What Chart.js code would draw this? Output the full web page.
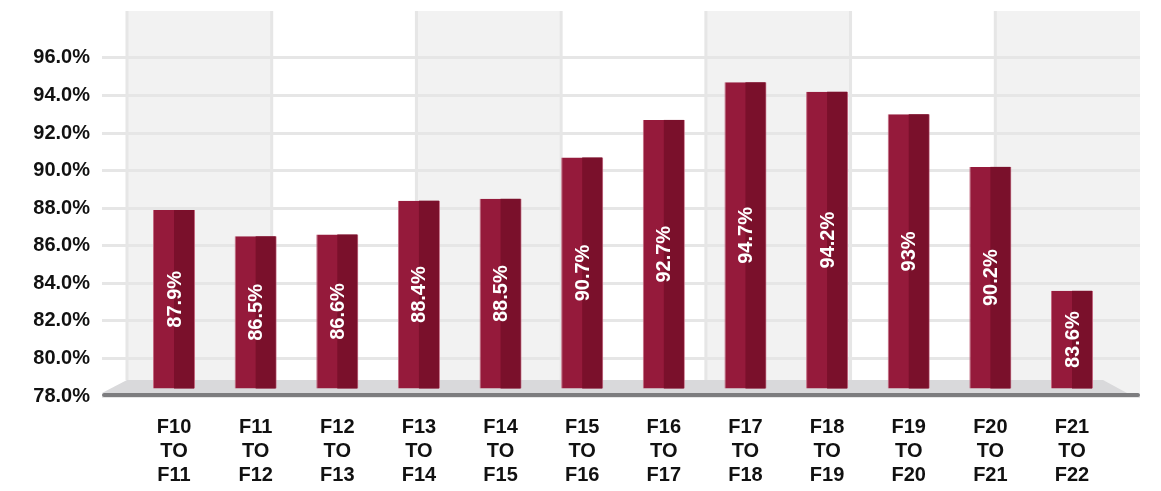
<!DOCTYPE html>
<html>
<head>
<meta charset="utf-8">
<script src="https://cdn.jsdelivr.net/npm/chart.js@4.4.0/dist/chart.umd.min.js"></script>
<style>
  html, body { margin: 0; padding: 0; background: #ffffff; }
  #wrap { width: 1161px; height: 491px; position: relative; }
</style>
</head>
<body>
<div id="wrap"><canvas id="retentionChart"></canvas></div>
<script>
// ------------------- Data -------------------
const periods = [
  "F10 TO F11", "F11 TO F12", "F12 TO F13", "F13 TO F14",
  "F14 TO F15", "F15 TO F16", "F16 TO F17", "F17 TO F18",
  "F18 TO F19", "F19 TO F20", "F20 TO F21", "F21 TO F22"
];
const rates = [87.9, 86.5, 86.6, 88.4, 88.5, 90.7, 92.7, 94.7, 94.2, 93, 90.2, 83.6];
const yTickValues = [78, 80, 82, 84, 86, 88, 90, 92, 94, 96];

const barLight = "#951a3b";
const barDark = "#7a102b";
const labelFont = { family: "'Liberation Sans', Arial, sans-serif", size: 20, weight: "bold" };

// back wall stripes, vertical wall lines, floor and axis bar
const wallPlugin = {
  id: "wall",
  beforeDraw(chart) {
    const { ctx, chartArea } = chart;
    const bands = chart.scales.x2;
    const floorTop = chartArea.bottom - 16;
    ctx.save();
    ctx.fillStyle = "#f2f2f2";
    for (let k = 0; k < 7; k += 2) {
      const l = bands.getPixelForValue(k);
      const r = bands.getPixelForValue(k + 1);
      ctx.fillRect(l, chartArea.top, r - l, chartArea.bottom - 3 - chartArea.top);
    }
    ctx.strokeStyle = "#e6e6e6";
    ctx.lineWidth = 3;
    for (let k = 0; k < 7; k++) {
      const px = bands.getPixelForValue(k);
      ctx.beginPath();
      ctx.moveTo(px, chartArea.top);
      ctx.lineTo(px, floorTop);
      ctx.stroke();
    }
    ctx.restore();
  },
  beforeDatasetsDraw(chart) {
    const { ctx, chartArea } = chart;
    const floorTop = chartArea.bottom - 16;
    const floorBottom = chartArea.bottom - 3;
    ctx.save();
    ctx.fillStyle = "#d9d9db";
    ctx.beginPath();
    ctx.moveTo(chartArea.left, floorTop);
    ctx.lineTo(chartArea.right - 37, floorTop);
    ctx.lineTo(chartArea.right - 13, floorBottom);
    ctx.lineTo(chartArea.left - 25, floorBottom);
    ctx.closePath();
    ctx.fill();
    ctx.strokeStyle = "#7d7d7f";
    ctx.lineWidth = 4;
    ctx.lineCap = "round";
    ctx.beginPath();
    ctx.moveTo(chartArea.left - 23, chartArea.bottom - 1);
    ctx.lineTo(chartArea.right - 2, chartArea.bottom - 1);
    ctx.stroke();
    ctx.restore();
  },
  // darker right face + rotated value labels
  afterDatasetsDraw(chart) {
    const { ctx } = chart;
    const meta = chart.getDatasetMeta(0);
    meta.data.forEach((bar, i) => {
      const { x, y, base, width } = bar.getProps(["x", "y", "base", "width"], true);
      ctx.save();
      ctx.fillStyle = barDark;
      ctx.fillRect(x, y, width / 2 - 1, base - y);
      ctx.translate(x, (y + base) / 2);
      ctx.rotate(-Math.PI / 2);
      ctx.fillStyle = "#ffffff";
      ctx.font = "bold 20px 'Liberation Sans', Arial, sans-serif";
      ctx.textAlign = "center";
      ctx.textBaseline = "middle";
      ctx.fillText(rates[i] + "%", 0, 1);
      ctx.restore();
    });
  }
};

new Chart(document.getElementById("retentionChart"), {
  type: "bar",
  data: {
    datasets: [{
      data: rates.map((v, i) => ({ x: i, y: v })),
      backgroundColor: barLight,
      borderColor: "#c46a82",
      borderWidth: { left: 1, right: 1, top: 0, bottom: 0 },
      base: 78.4,
      barPercentage: 0.515,
      categoryPercentage: 1,
    }],
  },
  options: {
    responsive: true,
    maintainAspectRatio: false,
    animation: false,
    layout: { padding: { top: 11, right: 21, left: 0, bottom: 0 } },
    plugins: {
      legend: { display: false },
      tooltip: { enabled: false }
    },
    scales: {
      x: {
        type: "linear",
        offset: false,
        min: -0.576,
        max: 11.833,
        afterBuildTicks: (scale) => {
          scale.ticks = periods.map((_, i) => ({ value: i }));
        },
        ticks: {
          callback: (v) => periods[v].split(" "),
          color: "#111111",
          font: labelFont,
          padding: 19,
          autoSkip: false,
          maxRotation: 0,
        },
        grid: { display: false, drawTicks: false, offset: false },
        border: { display: false },
        afterFit: (scale) => {
          scale.height = 95;
          scale.paddingLeft = 0;
          scale.paddingRight = 0;
        }
      },
      x2: {
        type: "linear",
        offset: false,
        min: 0,
        max: 7,
        display: false,
      },
      y: {
        min: 78,
        max: 98.5,
        afterBuildTicks: (scale) => {
          scale.ticks = yTickValues.map((v) => ({ value: v }));
        },
        ticks: {
          callback: (v) => v.toFixed(1) + "%",
          color: "#111111",
          font: labelFont,
          padding: 12,
        },
        grid: {
          color: "#e6e6e6",
          lineWidth: 3,
          drawTicks: true,
          tickLength: 25,
          tickColor: "#e6e6e6",
        },
        border: { display: false },
        afterFit: (scale) => {
          scale.width = 127;
          scale.paddingTop = 0;
          scale.paddingBottom = 0;
        }
      }
    }
  },
  plugins: [wallPlugin],
});
</script>
</body>
</html>
